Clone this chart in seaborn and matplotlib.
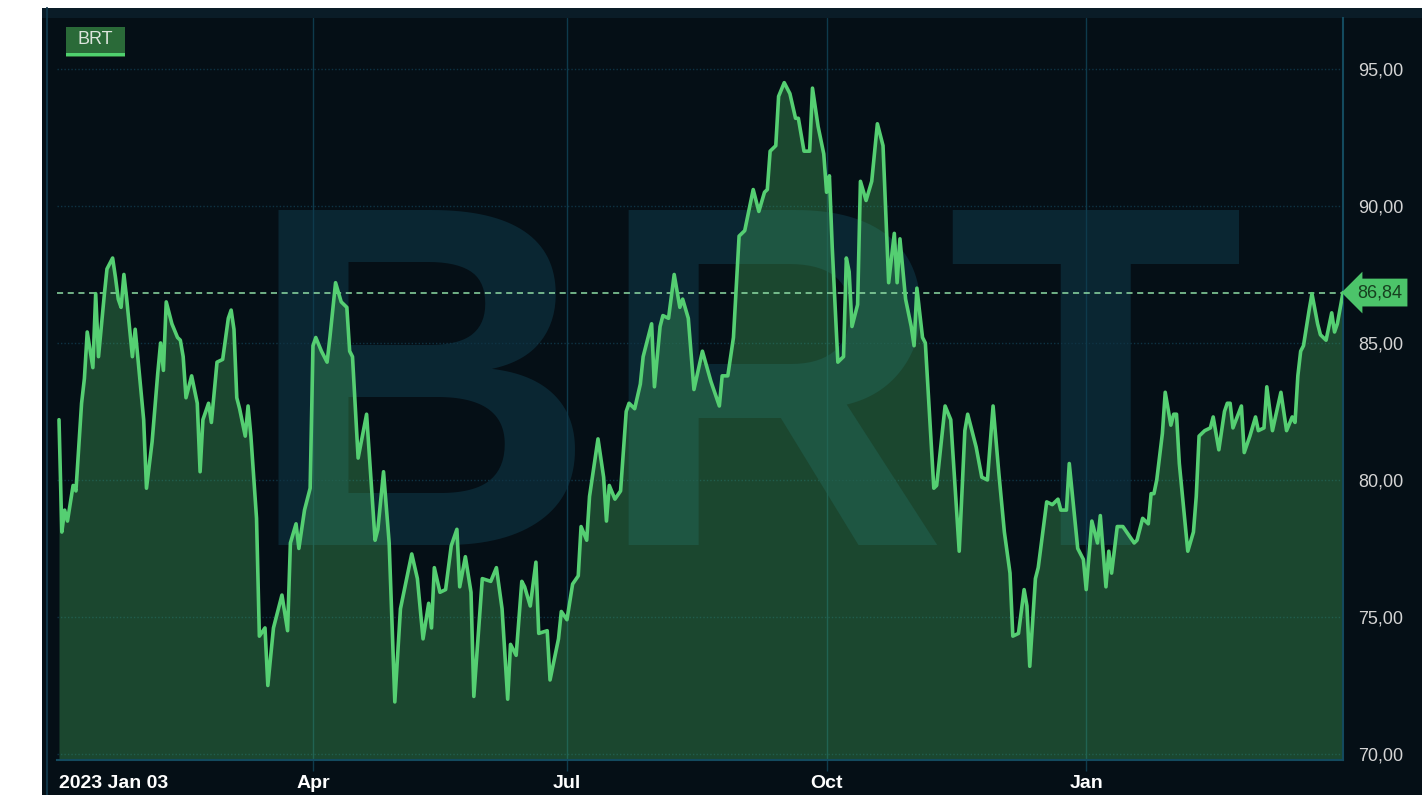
import matplotlib
matplotlib.use("Agg")
import matplotlib.pyplot as plt
import matplotlib.dates as mdates
from matplotlib.patches import Rectangle
from matplotlib.lines import Line2D
import pandas as pd
import seaborn as sns

# --- DATA ---
dates = [
    "2023-01-03", "2023-01-04", "2023-01-05", "2023-01-06", "2023-01-08", "2023-01-09", "2023-01-11",
    "2023-01-12", "2023-01-13", "2023-01-15", "2023-01-16", "2023-01-17", "2023-01-19", "2023-01-20",
    "2023-01-22", "2023-01-23", "2023-01-24", "2023-01-25", "2023-01-26", "2023-01-27", "2023-01-29",
    "2023-01-30",
    "2023-02-01", "2023-02-02", "2023-02-03", "2023-02-05", "2023-02-07", "2023-02-08", "2023-02-09",
    "2023-02-10", "2023-02-12", "2023-02-14", "2023-02-15", "2023-02-16", "2023-02-17", "2023-02-19",
    "2023-02-21", "2023-02-22", "2023-02-23", "2023-02-25", "2023-02-26", "2023-02-28",
    "2023-03-02", "2023-03-04", "2023-03-05", "2023-03-06", "2023-03-07", "2023-03-08", "2023-03-10",
    "2023-03-11", "2023-03-12", "2023-03-14", "2023-03-15", "2023-03-17", "2023-03-18", "2023-03-20",
    "2023-03-23", "2023-03-25", "2023-03-26", "2023-03-28", "2023-03-29", "2023-03-31",
    "2023-04-02", "2023-04-03", "2023-04-04", "2023-04-06", "2023-04-08", "2023-04-09", "2023-04-11",
    "2023-04-13", "2023-04-15", "2023-04-16", "2023-04-17", "2023-04-19", "2023-04-22", "2023-04-25",
    "2023-04-26", "2023-04-28", "2023-04-30",
    "2023-05-02", "2023-05-04", "2023-05-08", "2023-05-10", "2023-05-12", "2023-05-14", "2023-05-15",
    "2023-05-16", "2023-05-18", "2023-05-20", "2023-05-22", "2023-05-24", "2023-05-25", "2023-05-27",
    "2023-05-29", "2023-05-30",
    "2023-06-02", "2023-06-05", "2023-06-07", "2023-06-09", "2023-06-11", "2023-06-12", "2023-06-14",
    "2023-06-16", "2023-06-17", "2023-06-19", "2023-06-21", "2023-06-22", "2023-06-25", "2023-06-26",
    "2023-06-29", "2023-06-30",
    "2023-07-02", "2023-07-04", "2023-07-06", "2023-07-07", "2023-07-09", "2023-07-10", "2023-07-13",
    "2023-07-15", "2023-07-16", "2023-07-17", "2023-07-19", "2023-07-21", "2023-07-23", "2023-07-24",
    "2023-07-26", "2023-07-28", "2023-07-29",
    "2023-08-01", "2023-08-02", "2023-08-04", "2023-08-05", "2023-08-07", "2023-08-09", "2023-08-11",
    "2023-08-12", "2023-08-14", "2023-08-16", "2023-08-19", "2023-08-22", "2023-08-25", "2023-08-26",
    "2023-08-28", "2023-08-30",
    "2023-09-01", "2023-09-03", "2023-09-05", "2023-09-06", "2023-09-08", "2023-09-10", "2023-09-11",
    "2023-09-12", "2023-09-14", "2023-09-15", "2023-09-17", "2023-09-19", "2023-09-21", "2023-09-22",
    "2023-09-24", "2023-09-26", "2023-09-27", "2023-09-29",
    "2023-10-01", "2023-10-02", "2023-10-03", "2023-10-04", "2023-10-06", "2023-10-08", "2023-10-09",
    "2023-10-10", "2023-10-11", "2023-10-13", "2023-10-14", "2023-10-16", "2023-10-18", "2023-10-20",
    "2023-10-22", "2023-10-24", "2023-10-26", "2023-10-27", "2023-10-28", "2023-10-30",
    "2023-11-01", "2023-11-02", "2023-11-03", "2023-11-05", "2023-11-06", "2023-11-09", "2023-11-10",
    "2023-11-13", "2023-11-15", "2023-11-18", "2023-11-20", "2023-11-21", "2023-11-24", "2023-11-26",
    "2023-11-28", "2023-11-30",
    "2023-12-02", "2023-12-04", "2023-12-06", "2023-12-07", "2023-12-09", "2023-12-11", "2023-12-12",
    "2023-12-13", "2023-12-15", "2023-12-16", "2023-12-19", "2023-12-21", "2023-12-23", "2023-12-24",
    "2023-12-26", "2023-12-27", "2023-12-30",
    "2024-01-01", "2024-01-02", "2024-01-04", "2024-01-06", "2024-01-07", "2024-01-09", "2024-01-10",
    "2024-01-11", "2024-01-13", "2024-01-15", "2024-01-19", "2024-01-20", "2024-01-22", "2024-01-24",
    "2024-01-25", "2024-01-26", "2024-01-27", "2024-01-29", "2024-01-30",
    "2024-02-01", "2024-02-02", "2024-02-03", "2024-02-04", "2024-02-07", "2024-02-09", "2024-02-10",
    "2024-02-11", "2024-02-13", "2024-02-15", "2024-02-16", "2024-02-18", "2024-02-20", "2024-02-21",
    "2024-02-22", "2024-02-23", "2024-02-26", "2024-02-27", "2024-02-29",
    "2024-03-02", "2024-03-03", "2024-03-05", "2024-03-06", "2024-03-07", "2024-03-08", "2024-03-11",
    "2024-03-13", "2024-03-15", "2024-03-16", "2024-03-17", "2024-03-18", "2024-03-19", "2024-03-21",
    "2024-03-22", "2024-03-24", "2024-03-25", "2024-03-27", "2024-03-29", "2024-03-30", "2024-03-31",
    "2024-04-02",
]

prices = [
    82.2, 78.1, 78.9, 78.5, 79.8, 79.6, 82.8, 83.7, 85.4, 84.1, 86.8, 84.5, 86.7, 87.7,
    88.1, 87.4, 86.6, 86.3, 87.5, 86.6, 84.5, 85.5,
    83.3, 82.2, 79.7, 81.4, 83.9, 85.0, 84.0, 86.5, 85.7, 85.2, 85.1, 84.5, 83.0, 83.8,
    82.8, 80.3, 82.2, 82.8, 82.1, 84.3,
    84.4, 85.9, 86.2, 85.5, 83.0, 82.6, 81.6, 82.7, 81.6, 78.6, 74.3, 74.6, 72.5, 74.6,
    75.8, 74.5, 77.7, 78.4, 77.5, 78.9,
    79.7, 84.9, 85.2, 84.7, 84.3, 85.2, 87.2, 86.5, 86.3, 84.7, 84.5, 80.8, 82.4, 77.8,
    78.2, 80.3, 77.7,
    71.9, 75.3, 77.3, 76.4, 74.2, 75.5, 74.6, 76.8, 75.9, 76.0, 77.6, 78.2, 76.1, 77.2,
    75.9, 72.1,
    76.4, 76.3, 76.8, 75.3, 72.0, 74.0, 73.6, 76.3, 76.1, 75.4, 77.0, 74.4, 74.5, 72.7,
    74.2, 75.2,
    74.9, 76.2, 76.5, 78.3, 77.8, 79.4, 81.5, 80.1, 78.5, 79.8, 79.3, 79.6, 82.5, 82.8,
    82.6, 83.5, 84.5,
    85.7, 83.4, 85.6, 86.0, 85.9, 87.5, 86.3, 86.6, 85.9, 83.3, 84.7, 83.6, 82.7, 83.8,
    83.8, 85.2,
    88.9, 89.1, 90.1, 90.6, 89.8, 90.5, 90.6, 92.0, 92.2, 94.0, 94.5, 94.1, 93.2, 93.2,
    92.0, 92.0, 94.3, 92.9,
    91.9, 90.5, 91.1, 88.5, 84.3, 84.5, 88.1, 87.6, 85.6, 86.4, 90.9, 90.2, 90.9, 93.0,
    92.2, 87.2, 89.0, 87.2, 88.8, 86.6,
    85.6, 84.9, 87.0, 85.2, 85.0, 79.7, 79.8, 82.7, 82.2, 77.4, 81.8, 82.4, 81.2, 80.1,
    80.0, 82.7,
    80.3, 78.1, 76.6, 74.3, 74.4, 76.0, 75.4, 73.2, 76.4, 76.8, 79.2, 79.1, 79.3, 78.9,
    78.9, 80.6, 77.5,
    77.1, 76.0, 78.5, 77.7, 78.7, 76.1, 77.4, 76.6, 78.3, 78.3, 77.7, 77.8, 78.6, 78.4,
    79.5, 79.5, 80.0, 81.7, 83.2,
    82.0, 82.4, 82.4, 80.6, 77.4, 78.1, 79.4, 81.6, 81.8, 81.9, 82.3, 81.1, 82.5, 82.8,
    82.8, 81.9, 82.7, 81.0, 81.6,
    82.3, 81.8, 81.9, 83.4, 82.6, 81.8, 83.2, 81.8, 82.3, 82.1, 83.8, 84.7, 84.9, 86.2,
    86.8, 85.7, 85.3, 85.1, 86.1, 85.4, 85.7,
    86.84,
]

last_price = 86.84
tick_dates = ["2023-01-03", "2023-04-03", "2023-07-02", "2023-10-02", "2024-01-02"]
tick_labels = ["2023 Jan 03", "Apr", "Jul", "Oct", "Jan"]
y_ticks = [70, 75, 80, 85, 90, 95]

df = pd.DataFrame({"date": pd.to_datetime(dates), "price": prices})

# --- COLOURS ---
BG = "#050f16"
GRID = "#0f3344"
VGRID = "#0e3a4c"
SPINE = "#134a5e"
LINE = "#55cf72"
FILL = "#45b060"
MARK = "#0a2632"

sns.set_theme(style="dark")
plt.rcParams["font.family"] = ["Liberation Sans", "DejaVu Sans"]

W, H = 1428, 795
fig = plt.figure(figsize=(W / 100, H / 100), dpi=100, facecolor="white")

# dark panel behind everything, top strip and left border line
fig.add_artist(Rectangle((42 / W, 0), 1380 / W, 787 / H, transform=fig.transFigure,
                         facecolor=BG, edgecolor="none", zorder=-5))
fig.add_artist(Rectangle((42 / W, 777 / H), 1380 / W, 10 / H, transform=fig.transFigure,
                         facecolor="#0a1c27", edgecolor="none", zorder=-4))
fig.add_artist(Line2D([47 / W, 47 / W], [0, 787 / H], transform=fig.transFigure,
                      color="#0f3446", lw=1.5, zorder=-3))

ax = fig.add_axes([57 / W, 35 / H, 1286 / W, 742 / H])
ax.set_facecolor(BG)
ax.patch.set_alpha(0)

y_bottom, y_top = 69.78, 96.86

# watermark
ax.text(745 / W, 250 / H, "BRT", transform=fig.transFigure, ha="center", va="baseline",
        fontsize=350, fontweight="bold", color=MARK, zorder=0.2)

ax.fill_between(df["date"], df["price"], y_bottom, color=FILL, alpha=0.35, lw=0, zorder=2)
sns.lineplot(data=df, x="date", y="price", ax=ax, color=LINE, lw=2.6, zorder=3)

for d in tick_dates[1:]:
    ax.axvline(pd.Timestamp(d), color=VGRID, lw=1, zorder=0.6)

ax.axhline(last_price, color="#8fdca5", lw=1.1, ls=(0, (4, 3)), zorder=2.5)

ax.set_xlim(pd.Timestamp("2023-01-03") - pd.Timedelta(hours=17), pd.Timestamp("2024-04-02"))
ax.set_ylim(y_bottom, y_top)

# y axis on the right
ax.yaxis.tick_right()
ax.set_yticks(y_ticks)
ax.set_yticklabels([f"{v:.2f}".replace(".", ",") for v in y_ticks])
ax.tick_params(axis="y", length=0, pad=11, labelsize=13, labelcolor="#d4d4d4")
ax.grid(axis="y", color=GRID, ls=(0, (1, 1.5)), lw=1)
ax.grid(axis="x", visible=False)
ax.set_axisbelow(True)

# x axis
ax.set_xticks(pd.to_datetime(tick_dates))
ax.set_xticklabels(tick_labels, fontsize=14, fontweight="bold", color="white")
ax.tick_params(axis="x", length=8, width=1, color=VGRID, pad=3, bottom=True)
ax.get_xticklabels()[0].set_ha("left")
ax.xaxis.get_major_ticks()[0].tick1line.set_visible(False)
ax.set_xlabel("")
ax.set_ylabel("")

for side in ["left", "top"]:
    ax.spines[side].set_visible(False)
for side in ["bottom", "right"]:
    ax.spines[side].set_visible(True)
    ax.spines[side].set_color(SPINE)
    ax.spines[side].set_linewidth(1.5)

# last price tag
ax.text(1 + 14 / 1286, last_price, f"{last_price:.2f}".replace(".", ","),
        transform=ax.get_yaxis_transform(), ha="left", va="center", fontsize=13,
        color="#17401f", zorder=6, clip_on=False,
        bbox=dict(boxstyle="larrow,pad=0.3", fc="#4cc46a", ec="none"))

# legend chip
fig.add_artist(Rectangle((66 / W, 738 / H), 59 / W, 30 / H, transform=fig.transFigure,
                         facecolor="#2a6a38", edgecolor="none", zorder=5))
fig.add_artist(Rectangle((66 / W, 739 / H), 59 / W, 3 / H, transform=fig.transFigure,
                         facecolor="#4fd06e", edgecolor="none", zorder=6))
fig.text(95 / W, 755 / H, "BRT", ha="center", va="center", fontsize=13,
         color="#dde5dd", zorder=7)

fig.savefig("out.png", dpi=100, facecolor="white")
